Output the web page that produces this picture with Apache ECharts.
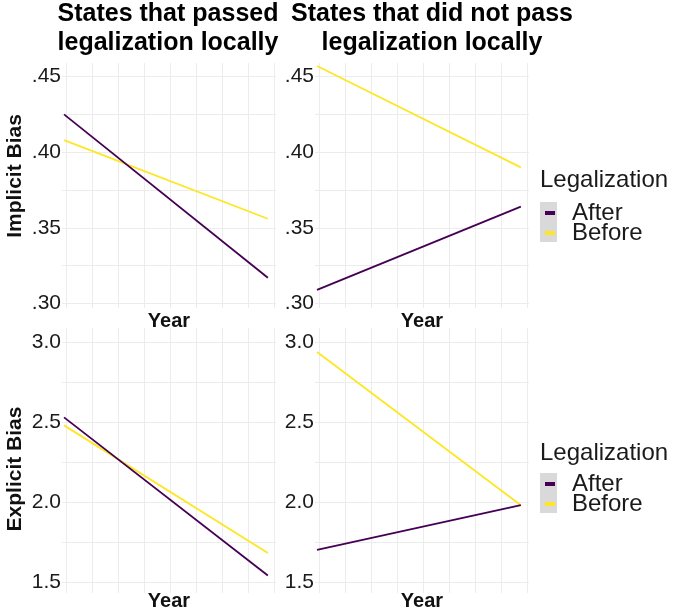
<!DOCTYPE html>
<html><head><meta charset="utf-8">
<script src="https://cdn.jsdelivr.net/npm/echarts@6/dist/echarts.min.js"></script>
<style>html,body{margin:0;padding:0;background:#fff}#c{width:677px;height:615px}</style>
</head><body><div id="c"></div>
<script>
// ---- data ----
const xPoints = [0, 1];
const seriesNames = ["After", "Before"];
const columnTitles = [["States that passed", "legalization locally"], ["States that did not pass", "legalization locally"]];
const rowNames = ["Implicit Bias", "Explicit Bias"];
const xName = "Year";
const legendTitle = "Legalization";

const implicitPassedAfter = [0.425, 0.317];
const implicitPassedBefore = [0.408, 0.356];
const implicitNotPassedAfter = [0.309, 0.364];
const implicitNotPassedBefore = [0.457, 0.390];
const explicitPassedAfter = [2.53, 1.54];
const explicitPassedBefore = [2.48, 1.68];
const explicitNotPassedAfter = [1.70, 1.98];
const explicitNotPassedBefore = [2.94, 1.98];

const implicitTicks = [0.30, 0.35, 0.40, 0.45];
const explicitTicks = [1.5, 2.0, 2.5, 3.0];
const implicitGridVals = [0.30, 0.325, 0.35, 0.375, 0.40, 0.425, 0.45];
const explicitGridVals = [1.5, 1.75, 2.0, 2.25, 2.5, 2.75, 3.0];
const xGridVals = [0.01, 0.1375, 0.265, 0.3925, 0.52, 0.6475, 0.775, 0.9025, 1.03];

// ---- layout / style ----
const colors = {After: "#440154", Before: "#FDE725"};
const gridColor = "#ececec";
const labelFont = "Liberation Sans";
const grids = [
  {left: 62, top: 63, width: 214, height: 245},
  {left: 315, top: 63, width: 214, height: 245},
  {left: 62, top: 328, width: 214, height: 265},
  {left: 315, top: 328, width: 214, height: 265}
];
const panelData = [
  [implicitPassedAfter, implicitPassedBefore],
  [implicitNotPassedAfter, implicitNotPassedBefore],
  [explicitPassedAfter, explicitPassedBefore],
  [explicitNotPassedAfter, explicitNotPassedBefore]
];
const yRanges = [[0.297, 0.459], [0.297, 0.459], [1.43, 3.09], [1.43, 3.09]];

const xAxes = grids.map((g, i) => ({
  type: "value", gridIndex: i, min: -0.01, max: 1.04,
  axisLine: {show: false}, axisLabel: {show: false},
  axisTick: {show: false, customValues: xGridVals},
  splitLine: {show: true, lineStyle: {color: gridColor, width: 1}},
  name: xName, nameLocation: "middle", nameGap: i < 2 ? 3 : -2,
  nameTextStyle: {fontFamily: labelFont, fontWeight: "bold", fontSize: 20, color: "#111"}
}));

const yAxes = grids.map((g, i) => {
  const top = i < 2;
  return {
    type: "value", gridIndex: i, min: yRanges[i][0], max: yRanges[i][1],
    axisLine: {show: false},
    axisTick: {show: false, customValues: top ? implicitGridVals : explicitGridVals},
    splitLine: {show: true, lineStyle: {color: gridColor, width: 1}},
    axisLabel: {
      customValues: top ? implicitTicks : explicitTicks,
      formatter: v => top ? v.toFixed(2).replace(/^0/, "") : v.toFixed(1),
      fontFamily: labelFont, fontSize: 21, color: "#1a1a1a", margin: 1
    }
  };
});

const series = [];
panelData.forEach((pair, i) => {
  pair.forEach((vals, k) => {
    const name = seriesNames[k];
    series.push({
      type: "line", name: name, xAxisIndex: i, yAxisIndex: i,
      data: xPoints.map((x, j) => [x, vals[j]]),
      symbol: "none", silent: true,
      z: k === 0 ? 3 : 2,
      lineStyle: {color: colors[name], width: 1.8},
      itemStyle: {color: colors[name]}
    });
  });
});

const legendBase = {
  orient: "vertical", left: 545, padding: 0, itemWidth: 10, itemHeight: 4, itemGap: -4,
  icon: "rect", selectedMode: false, data: seriesNames,
  textStyle: {fontFamily: labelFont, fontSize: 24, color: "#1a1a1a", padding: [0, 0, 0, 12]}
};

const graphics = [];
columnTitles.forEach((lines, c) => {
  const cx = c === 0 ? 168 : 432;
  lines.forEach((t, r) => {
    graphics.push({type: "text", x: cx, y: r === 0 ? 14 : 43,
      style: {text: t, fill: "#000", font: "bold 25px 'Liberation Sans'", textAlign: "center", textVerticalAlign: "middle"}});
  });
});
rowNames.forEach((t, r) => {
  graphics.push({type: "text", x: 15, y: r === 0 ? 176 : 469, rotation: Math.PI / 2,
    style: {text: t, fill: "#111", font: "bold 21px 'Liberation Sans'", textAlign: "center", textVerticalAlign: "middle"}});
});
[[180, 202], [453, 473]].forEach(([ty, by]) => {
  graphics.push({type: "text", x: 540, y: ty,
    style: {text: legendTitle, fill: "#1a1a1a", font: "24px 'Liberation Sans'", textAlign: "left", textVerticalAlign: "middle"}});
  graphics.push({type: "rect", shape: {x: 540, y: by, width: 17, height: 40}, style: {fill: "#d9d9d9"}, z: -1});
});

const chart = echarts.init(document.getElementById("c"), null, {renderer: "canvas"});
chart.setOption({
  backgroundColor: "#fff",
  animation: false,
  grid: grids,
  xAxis: xAxes,
  yAxis: yAxes,
  legend: [Object.assign({top: 201}, legendBase), Object.assign({top: 472}, legendBase)],
  graphic: graphics,
  series: series
});
</script></body></html>
